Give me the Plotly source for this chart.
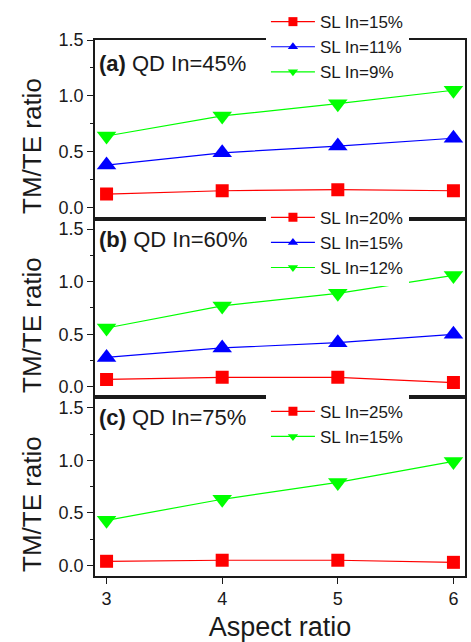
import plotly.graph_objects as go
from plotly.subplots import make_subplots

aspect = [3, 4, 5, 6]

# Panel (a) QD In=45%
a_sl15 = [0.12, 0.15, 0.16, 0.15]
a_sl11 = [0.38, 0.49, 0.55, 0.62]
a_sl9 = [0.64, 0.82, 0.93, 1.05]

# Panel (b) QD In=60%
b_sl20 = [0.07, 0.09, 0.09, 0.04]
b_sl15 = [0.28, 0.37, 0.42, 0.50]
b_sl12 = [0.56, 0.77, 0.89, 1.06]

# Panel (c) QD In=75%
c_sl25 = [0.04, 0.05, 0.05, 0.03]
c_sl15 = [0.43, 0.63, 0.79, 0.99]

panel_labels = ["<b>(a)</b> QD In=45%", "<b>(b)</b> QD In=60%", "<b>(c)</b> QD In=75%"]
y_title = "TM/TE ratio"
x_title = "Aspect ratio"

RED, BLUE, GREEN = "#ff0000", "#0000ff", "#00ff00"
FONT = "Arial, Liberation Sans, sans-serif"
INK = "#1a1a1a"

panels = [
    (1, "legend", [("SL In=15%", a_sl15, RED, "square", 13),
                   ("SL In=11%", a_sl11, BLUE, "triangle-up", 17),
                   ("SL In=9%", a_sl9, GREEN, "triangle-down", 17)]),
    (2, "legend2", [("SL In=20%", b_sl20, RED, "square", 13),
                    ("SL In=15%", b_sl15, BLUE, "triangle-up", 17),
                    ("SL In=12%", b_sl12, GREEN, "triangle-down", 17)]),
    (3, "legend3", [("SL In=25%", c_sl25, RED, "square", 13),
                    ("SL In=15%", c_sl15, GREEN, "triangle-down", 17)]),
]

fig = make_subplots(rows=3, cols=1, shared_xaxes=True, vertical_spacing=0)

for row, leg, series in panels:
    for name, vals, col, sym, sz in series:
        fig.add_trace(go.Scatter(x=aspect, y=vals, mode="lines+markers", name=name,
                                 line=dict(color=col, width=1.2),
                                 marker=dict(symbol=sym, size=sz, color=col, line=dict(width=0)),
                                 showlegend=False), row=row, col=1)
        # legend entry with small marker
        fig.add_trace(go.Scatter(x=[None], y=[None], mode="lines+markers", name=name,
                                 line=dict(color=col, width=1.2),
                                 marker=dict(symbol=sym, size=9, color=col, line=dict(width=0)),
                                 legend=leg, showlegend=True), row=row, col=1)

axis_common = dict(showline=True, linecolor=INK, linewidth=1.6, mirror=True,
                   showgrid=False, zeroline=False, tickfont=dict(family=FONT, size=18, color=INK))

for r in (1, 2, 3):
    fig.update_yaxes(**axis_common, ticks="outside", ticklen=6, tickwidth=1.2, tickcolor=INK,
                     tickvals=[0, 0.5, 1.0, 1.5], ticktext=["0.0", "0.5", "1.0", "1.5"],
                     minor=dict(ticks="outside", ticklen=3, tickwidth=1.2, tickcolor=INK,
                                tickvals=[0.25, 0.75, 1.25]),
                     row=r, col=1)
    fig.update_xaxes(**axis_common, range=[2.9, 6.1], tickvals=aspect, row=r, col=1)

fig.update_yaxes(range=[-0.1, 1.5], row=1, col=1)
fig.update_yaxes(range=[-0.1, 1.6], row=2, col=1)
fig.update_yaxes(range=[-0.1, 1.6], row=3, col=1)
fig.update_xaxes(ticks="", showticklabels=False, row=1, col=1)
fig.update_xaxes(ticks="", showticklabels=False, row=2, col=1)
fig.update_xaxes(ticks="outside", ticklen=6, tickwidth=1.2, tickcolor=INK, showticklabels=True,
                 title=dict(text=x_title, font=dict(family=FONT, size=27, color=INK), standoff=10),
                 row=3, col=1)

leg_common = dict(bgcolor="white", borderwidth=0, x=0.462, xanchor="left", yanchor="top",
                  font=dict(family=FONT, size=17, color=INK), tracegroupgap=0, itemwidth=44)
fig.update_layout(
    legend=dict(**leg_common, y=1.067),
    legend2=dict(**leg_common, y=0.702),
    legend3=dict(**leg_common, y=0.340),
)

label_y = [0.957, 0.627, 0.295]
for txt, yy in zip(panel_labels, label_y):
    fig.add_annotation(text=txt, xref="paper", yref="paper", x=0.005, y=yy, xanchor="left",
                       yanchor="middle", showarrow=False, font=dict(family=FONT, size=22, color=INK))

title_y = [0.803, 0.469, 0.135]
for yy in title_y:
    fig.add_annotation(text=y_title, xref="paper", yref="paper", x=-0.172, y=yy, xanchor="center",
                       yanchor="middle", textangle=-90, showarrow=False,
                       font=dict(family=FONT, size=26, color=INK))

fig.update_layout(width=471, height=642, margin=dict(l=95, r=4, t=37, b=66),
                  plot_bgcolor="white", paper_bgcolor="white")

fig.write_html("out.html", config={"displayModeBar": False},
               post_script="document.body.style.margin='0';document.body.style.overflow='hidden';")
